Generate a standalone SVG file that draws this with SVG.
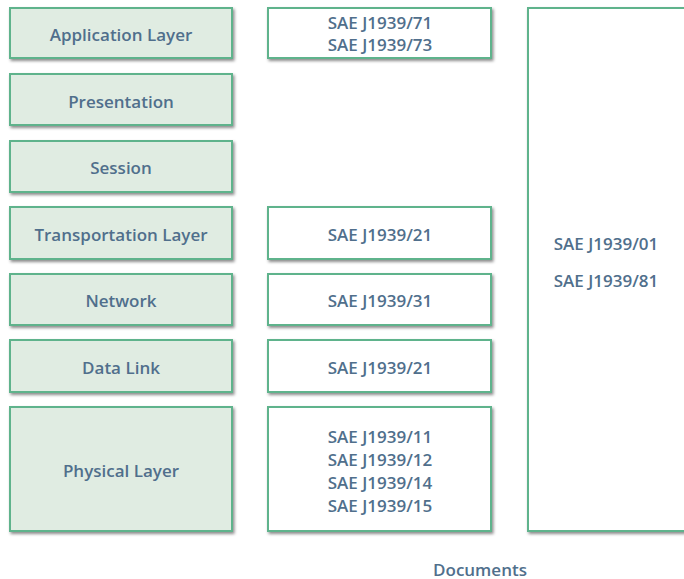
<svg xmlns="http://www.w3.org/2000/svg" width="684" height="579" viewBox="0 0 684 579">
  <defs>
    <filter id="shadow" x="-10%" y="-10%" width="130%" height="130%">
      <feDropShadow dx="1.5" dy="2" stdDeviation="1.8" flood-color="#000" flood-opacity="0.45"/>
    </filter>
  </defs>
  <style>
    .layer rect { fill: #e0ece2; stroke: #5fb38c; stroke-width: 2; filter: url(#shadow); }
    .doc rect { fill: #ffffff; stroke: #5fb38c; stroke-width: 2; filter: url(#shadow); }
    text { font-family: "Open Sans", "Liberation Sans", sans-serif; font-size: 17px; font-weight: 600; fill: #506f8c; text-anchor: middle; dominant-baseline: central; }
  </style>
  <rect width="684" height="579" fill="#ffffff"/>

  <!-- OSI layers -->
  <g id="application" class="layer"><rect x="10" y="8" width="222" height="50"/><text x="121" y="34">Application Layer</text></g>
  <g id="presentation" class="layer"><rect x="10" y="74" width="222" height="51"/><text x="121" y="101">Presentation</text></g>
  <g id="session" class="layer"><rect x="10" y="141" width="222" height="51"/><text x="121" y="167">Session</text></g>
  <g id="transport" class="layer"><rect x="10" y="207" width="222" height="52"/><text x="121" y="234">Transportation Layer</text></g>
  <g id="network" class="layer"><rect x="10" y="274" width="222" height="51"/><text x="121" y="300">Network</text></g>
  <g id="datalink" class="layer"><rect x="10" y="340" width="222" height="52"/><text x="121" y="367">Data Link</text></g>
  <g id="physical" class="layer"><rect x="10" y="407" width="222" height="124"/><text x="121" y="470">Physical Layer</text></g>

  <!-- J1939 documents per layer -->
  <g id="doc-application" class="doc"><rect x="268" y="8" width="223" height="50"/><text x="380" y="22">SAE J1939/71</text><text x="380" y="44">SAE J1939/73</text></g>
  <g id="doc-transport" class="doc"><rect x="268" y="207" width="223" height="52"/><text x="380" y="234">SAE J1939/21</text></g>
  <g id="doc-network" class="doc"><rect x="268" y="274" width="223" height="51"/><text x="380" y="300">SAE J1939/31</text></g>
  <g id="doc-datalink" class="doc"><rect x="268" y="340" width="223" height="52"/><text x="380" y="367">SAE J1939/21</text></g>
  <g id="doc-physical" class="doc"><rect x="268" y="407" width="223" height="124"/><text x="380" y="436">SAE J1939/11</text><text x="380" y="459">SAE J1939/12</text><text x="380" y="482">SAE J1939/14</text><text x="380" y="505">SAE J1939/15</text></g>

  <!-- documents spanning all layers -->
  <g id="doc-all" class="doc"><rect x="528" y="8" width="170" height="523"/><text x="606" y="243">SAE J1939/01</text><text x="606" y="280">SAE J1939/81</text></g>

  <text id="caption" x="480" y="569">Documents</text>
</svg>
